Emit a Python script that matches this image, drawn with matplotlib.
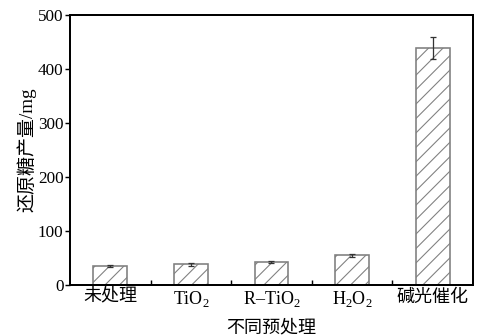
import matplotlib.pyplot as plt
import numpy as np

plt.rcParams['font.family'] = ['Liberation Serif', 'Noto Sans CJK SC']
plt.rcParams['mathtext.fontset'] = 'custom'
plt.rcParams['mathtext.rm'] = 'Liberation Serif'
plt.rcParams['hatch.linewidth'] = 0.6
plt.rcParams['hatch.color'] = '#707070'

labels = ['未处理', 'TiO$_2$', 'R–TiO$_2$', 'H$_2$O$_2$', '碱光催化']
sugar = [35, 38, 43, 55, 439]
err = [1.5, 2, 2, 3, 21]

x = np.arange(1, len(labels) + 1)

fig = plt.figure(figsize=(478 / 130, 336 / 130), dpi=130)
ax = fig.add_axes([0.1464, 0.1518, 0.8431, 0.8036])

ax.bar(x, sugar, width=0.42, color='white', edgecolor='#808080',
       linewidth=0.9, hatch='///', zorder=2)
ax.errorbar(x, sugar, yerr=err, fmt='none', ecolor='#333333',
            elinewidth=0.7, capsize=1.7, capthick=0.7, zorder=3)

ax.set_xlim(0.5, 5.5)
ax.set_ylim(0, 500)
ax.set_yticks([0, 100, 200, 300, 400, 500])
ax.set_xticks(x)
ax.set_xticklabels(labels)
ax.set_xticks(x[:-1] + 0.5, minor=True)

ax.tick_params(axis='x', which='both', direction='in', length=2.5, width=0.8,
               labelsize=10, pad=2)
ax.tick_params(axis='y', direction='out', length=2.5, width=0.8,
               labelsize=9.5, pad=1)
for s in ax.spines.values():
    s.set_linewidth(1.1)

ax.set_ylabel('还原糖产量/mg', fontsize=10.5, labelpad=1)
ax.set_xlabel('不同预处理', fontsize=10, labelpad=6)

fig.savefig('out.png', dpi=130)
